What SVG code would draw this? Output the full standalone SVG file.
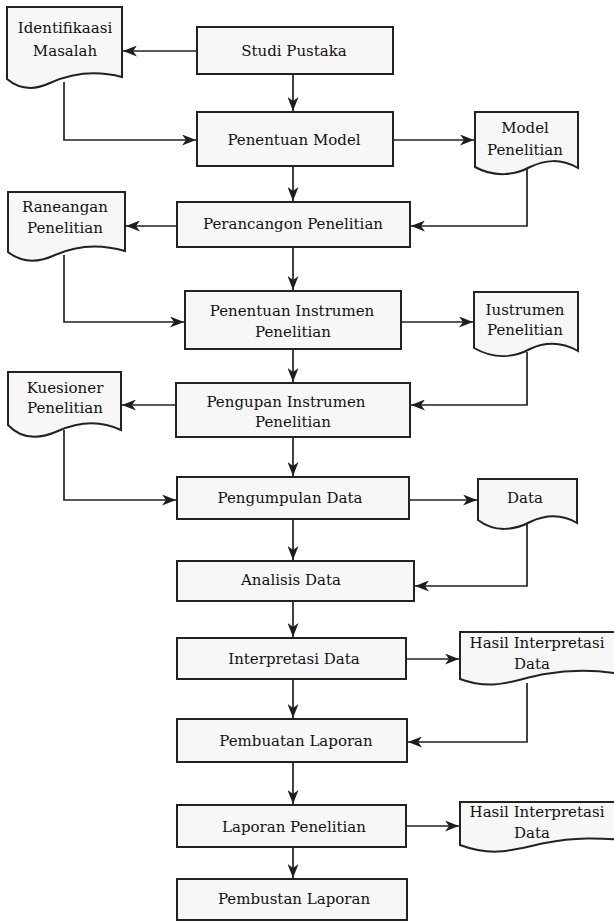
<svg xmlns="http://www.w3.org/2000/svg" width="614" height="922" viewBox="0 0 614 922">
<defs>
<marker id="ah" viewBox="0 0 14 11" markerWidth="14" markerHeight="11" refX="14" refY="5.5" orient="auto" markerUnits="userSpaceOnUse">
<path d="M0,0 L14,5.5 L0,11 L4,5.5 Z" fill="#1e1e1e"/>
</marker>
<style>
.box{fill:#f7f7f7;stroke:#222;stroke-width:2}
.doc{fill:#f7f7f7;stroke:#222;stroke-width:2;stroke-linejoin:miter}
.c{fill:none;stroke:#222;stroke-width:1.7;marker-end:url(#ah)}
text{font-family:"DejaVu Serif","Liberation Serif",serif;font-size:15px;fill:#111;text-anchor:middle}
</style>
</defs>
<rect width="614" height="922" fill="#ffffff"/>
<g id="connectors">
<path class="c" d="M293,74 V111"/>
<path class="c" d="M293,166 V201"/>
<path class="c" d="M293,247 V290"/>
<path class="c" d="M293,349 V382"/>
<path class="c" d="M293,437 V476"/>
<path class="c" d="M293,519 V560"/>
<path class="c" d="M293,601 V637"/>
<path class="c" d="M293,679 V718"/>
<path class="c" d="M293,762 V804"/>
<path class="c" d="M293,847 V878"/>
<path class="c" d="M197,51 H123"/>
<path class="c" d="M64,82 V140 H196"/>
<path class="c" d="M393,140 H474"/>
<path class="c" d="M527,168 V226 H411"/>
<path class="c" d="M177,226 H126"/>
<path class="c" d="M64,255 V322 H184"/>
<path class="c" d="M401,322 H473"/>
<path class="c" d="M527,352 V405 H411"/>
<path class="c" d="M176,405 H122"/>
<path class="c" d="M64,430 V500 H176"/>
<path class="c" d="M409,500 H477"/>
<path class="c" d="M527,524 V586 H415"/>
<path class="c" d="M406,659 H459"/>
<path class="c" d="M527,683 V742 H408"/>
<path class="c" d="M406,826 H459"/>
</g>
<g id="studi-pustaka"><rect class="box" x="197" y="27" width="196" height="47"/><text x="294" y="56">Studi Pustaka</text></g>
<g id="penentuan-model"><rect class="box" x="197" y="112" width="196" height="54"/><text x="294" y="145">Penentuan Model</text></g>
<g id="perancangon"><rect class="box" x="177" y="202" width="233" height="45"/><text x="293" y="229">Perancangon Penelitian</text></g>
<g id="penentuan-instrumen"><rect class="box" x="185" y="291" width="216" height="58"/><text x="292" y="316">Penentuan Instrumen</text><text x="293" y="337">Penelitian</text></g>
<g id="pengupan-instrumen"><rect class="box" x="176" y="383" width="234" height="54"/><text x="286" y="407">Pengupan Instrumen</text><text x="293" y="427">Penelitian</text></g>
<g id="pengumpulan-data"><rect class="box" x="177" y="477" width="232" height="42"/><text x="290" y="503">Pengumpulan Data</text></g>
<g id="analisis-data"><rect class="box" x="177" y="561" width="237" height="40"/><text x="291" y="585">Analisis Data</text></g>
<g id="interpretasi-data"><rect class="box" x="177" y="638" width="229" height="41"/><text x="294" y="664">Interpretasi Data</text></g>
<g id="pembuatan-laporan"><rect class="box" x="177" y="719" width="230" height="43"/><text x="296" y="746">Pembuatan Laporan</text></g>
<g id="laporan-penelitian"><rect class="box" x="177" y="805" width="229" height="42"/><text x="294" y="832">Laporan Penelitian</text></g>
<g id="pembustan-laporan"><rect class="box" x="177" y="879" width="230" height="41"/><text x="294" y="904">Pembustan Laporan</text></g>

<g id="identifikaasi-masalah"><path class="doc" d="M7,7 H122 V77 C95,70 70,74 50,83 C35,90 20,90 7,79 Z"/><text x="65" y="33">Identifikaasi</text><text x="65" y="56">Masalah</text></g>
<g id="model-penelitian"><path class="doc" d="M475,112 H578 V168 C560,158 545,160 530,167 C515,175 495,178 475,167 Z"/><text x="525" y="133">Model</text><text x="525" y="155">Penelitian</text></g>
<g id="raneangan-penelitian"><path class="doc" d="M8,192 H125 V251 C98,243 75,246 55,255 C38,263 22,263 8,252 Z"/><text x="65" y="212">Raneangan</text><text x="65" y="233">Penelitian</text></g>
<g id="iustrumen-penelitian"><path class="doc" d="M474,292 H578 V351 C560,341 545,342 530,349 C515,357 495,360 474,348 Z"/><text x="525" y="315">Iustrumen</text><text x="525" y="335">Penelitian</text></g>
<g id="kuesioner-penelitian"><path class="doc" d="M8,372 H121 V430 C100,420 78,422 58,431 C40,439 22,440 8,425 Z"/><text x="65" y="393">Kuesioner</text><text x="65" y="413">Penelitian</text></g>
<g id="data"><path class="doc" d="M478,479 H577 V523 C560,513 545,515 530,522 C515,530 495,533 478,520 Z"/><text x="525" y="503">Data</text></g>
<g id="hasil-interpretasi-1"><path class="doc" d="M460,632 H625 V675 C600,670 575,669 545,674 C515,679 495,692 460,679 Z"/><text x="537" y="648">Hasil Interpretasi</text><text x="532" y="669">Data</text></g>
<g id="hasil-interpretasi-2"><path class="doc" d="M460,802 H625 V840 C600,838 575,837 545,843 C515,849 495,858 460,845 Z"/><text x="537" y="817">Hasil Interpretasi</text><text x="532" y="838">Data</text></g>
</svg>
